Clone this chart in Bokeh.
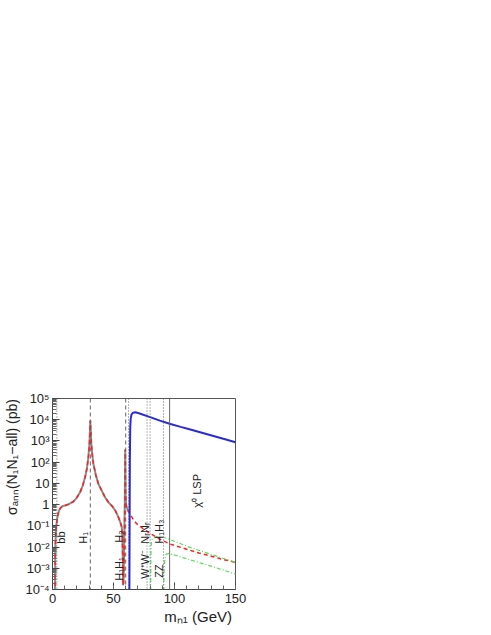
import math
from bokeh.plotting import figure
from bokeh.models import Span, FixedTicker, CustomJSTickFormatter, Range1d, ColumnDataSource
from bokeh.core.properties import value
from bokeh.embed import file_html
from bokeh.resources import INLINE

# ---------------- data ----------------
# total (gray solid) / red dashed curve, low-mass part up to the H2 pole
mass_main = [2.05, 2.15, 2.3, 2.6, 3.0, 4.0, 5.0, 6.2, 8.0, 11.6, 14.0, 17.1, 20.0, 22.6,
             24.8, 26.7, 28.2, 29.4, 30.3, 31.0, 31.8, 32.6, 33.5, 35.5, 37.6, 40.0, 43.1,
             46.0, 48.6, 51.5, 54.1, 55.7, 56.8, 57.3, 57.6, 57.8, 58.2, 58.6, 59.0, 59.3,
             59.6, 59.9, 60.3, 61.0, 62.0]
sigma_main = [3.2e-5, 1.0e-3, 1.0e-2, 3.2e-2, 8.9e-2, 0.25, 0.45, 0.66, 0.83, 0.95, 1.1, 1.38,
              2.14, 3.8, 7.9, 19.5, 50.0, 170.0, 794.0, 9100.0, 794.0, 224.0, 85.0, 25.0, 9.5,
              5.0, 2.2, 1.26, 0.89, 0.52, 0.25, 0.14, 0.085, 0.025, 2.5e-3, 1.6e-4, 2.0e-4,
              3.2e-3, 0.1, 2.0, 400.0, 3.2, 1.0, 0.7, 0.5]
# red dashed continuation above the H2 pole
mass_tail = [64.0, 66.4, 69.0, 72.0, 76.0, 80.0, 87.0, 96.5, 110.0, 120.0, 130.0, 140.0, 150.0]
sigma_tail = [0.32, 0.19, 0.126, 0.091, 0.063, 0.044, 0.025, 0.0138, 7.9e-3, 5.2e-3, 3.7e-3,
              2.6e-3, 1.9e-3]
# green dash-dot: W+W- channel
mass_ww = [80.45, 80.6, 81.0, 82.0, 85.0, 91.0, 96.0, 110.0, 130.0, 150.0]
sigma_ww = [3.2e-5, 3.2e-3, 1.6e-2, 2.5e-2, 3.0e-2, 2.9e-2, 2.3e-2, 1.1e-2, 4.5e-3, 1.9e-3]
# green dash-dot: ZZ channel
mass_zz = [91.2, 91.4, 92.0, 93.0, 95.0, 100.0, 110.0, 130.0, 150.0]
sigma_zz = [3.2e-5, 6.3e-4, 2.5e-3, 4.5e-3, 5.0e-3, 4.2e-3, 2.8e-3, 1.26e-3, 5.4e-4]
# blue solid: N_R N_R channel
mass_nr = [63.0, 63.2, 63.4, 63.7, 64.1, 64.8, 66.0, 68.0, 70.0, 72.0, 80.0, 88.0, 96.0,
           105.0, 113.0, 129.0, 140.0, 150.0]
sigma_nr = [3.2e-5, 0.1, 100.0, 4000.0, 1.12e4, 1.78e4, 2.14e4, 2.24e4, 2.09e4, 1.91e4,
            1.32e4, 9100.0, 6500.0, 4620.0, 3440.0, 1900.0, 1260.0, 870.0]

# vertical threshold lines
threshold_mass = [3.6, 31.0, 60.0, 62.3, 77.5, 80.0, 91.0, 96.0]
threshold_kind = ["dotted", "dashed", "dashed", "dotted", "dotted", "dotted", "dotted", "solid"]

# channel labels
label_text = ["bb\u0304", "H\u2081", "H\u2082", "H\u2081H\u2081", "N\u1d63N\u1d63",
              "W\u207aW\u207b", "ZZ", "H\u2081H\u2083", "\u03c7\u2070 LSP"]
label_mass = [11.9, 29.8, 59.4, 59.8, 80.8, 80.8, 92.0, 92.0, 123.7]
label_sigma = [0.0145, 0.0145, 0.016, 2.6e-4, 0.0145, 3.2e-4, 3.6e-4, 0.0145, 0.72]

y_ticks = [1e-4, 1e-3, 1e-2, 1e-1, 1.0, 10.0, 1e2, 1e3, 1e4, 1e5]
x_ticks = [0, 50, 100, 150]
x_title = "m\u2099\u2081 (GeV)"
y_title = "\u03c3\u2090\u2099\u2099(N\u2081N\u2081\u2212all) (pb)"

# ---------------- figure ----------------
FONT = "Liberation Sans"
BL, BT, FW, FH = 52, 398, 183, 191
W, H = BL + FW + 15, BT + FH + 38
p = figure(width=W, height=H, output_backend="svg", toolbar_location=None,
           x_range=Range1d(0, 150), y_range=Range1d(1e-4, 1e5), y_axis_type="log",
           min_border_left=BL, min_border_right=W - BL - FW, min_border_top=BT,
           min_border_bottom=H - BT - FH)
p.xgrid.visible = False
p.ygrid.visible = False
p.outline_line_color = "#555555"
p.background_fill_color = "white"
p.border_fill_color = "white"

p.xaxis.ticker = FixedTicker(ticks=x_ticks, minor_ticks=list(range(0, 151, 10)))
p.yaxis.ticker = FixedTicker(ticks=y_ticks,
                             minor_ticks=[k * 10.0 ** e for e in range(-4, 5) for k in range(2, 10)])
p.yaxis.formatter = CustomJSTickFormatter(code="""
const e = Math.round(Math.log10(tick));
const sup = {"-":"\u207b","0":"\u2070","1":"\u00b9","2":"\u00b2","3":"\u00b3","4":"\u2074",
             "5":"\u2075","6":"\u2076","7":"\u2077","8":"\u2078","9":"\u2079"};
if (e == 0) return "1";
if (e == 1) return "10";
return "10" + String(e).split("").map(c => sup[c]).join("");
""")
for ax in (p.xaxis, p.yaxis):
    ax.axis_line_color = "#444444"
    ax.major_tick_line_color = "#444444"
    ax.minor_tick_line_color = "#666666"
    ax.major_tick_in = 7
    ax.major_tick_out = 0
    ax.minor_tick_in = 4
    ax.minor_tick_out = 0
    ax.major_label_text_font = FONT
    ax.major_label_text_font_size = "13px"
    ax.major_label_text_color = "#222222"
    ax.axis_label_text_font = FONT
    ax.axis_label_text_font_style = "normal"
    ax.axis_label_text_color = "#222222"
p.yaxis.major_label_standoff = 3
p.xaxis.major_label_standoff = 4

# ROOT-style titles sit at the far end of each axis: centred labels, padded at the start
NBSP = "\u00a0"
p.xaxis.axis_label = NBSP * 26 + x_title
p.xaxis.axis_label_text_font_size = "15px"
p.xaxis.axis_label_standoff = 2
p.yaxis.axis_label = NBSP * 19 + y_title
p.yaxis.axis_label_text_font_size = "14px"
p.yaxis.axis_label_standoff = 2

# threshold lines
dash_map = {"dotted": "1 2", "dashed": "4 3", "solid": "solid"}
for m, kind in zip(threshold_mass, threshold_kind):
    p.add_layout(Span(location=m, dimension="height", line_color="#666666",
                      line_width=1, line_dash=dash_map[kind]))

# curves
p.line(mass_main, sigma_main, line_color="#8c8c8c", line_width=2)
p.line(mass_main + mass_tail, sigma_main + sigma_tail, line_color="#ff2020",
       line_width=1.5, line_dash="4 3")
p.line(mass_ww, sigma_ww, line_color="#55dd55", line_width=1.2, line_dash="4 2 1 2")
p.line(mass_zz, sigma_zz, line_color="#55dd55", line_width=1.2, line_dash="4 2 1 2")
p.line(mass_nr, sigma_nr, line_color="#2a2ad8", line_width=2)

# channel labels (rotated)
src = ColumnDataSource(dict(x=label_mass, y=label_sigma, t=label_text))
p.text(x="x", y="y", text="t", source=src, angle=math.pi / 2,
       text_align="left", text_baseline="bottom", text_font=value(FONT),
       text_font_size="11px", text_color="#222222")

open("out.html", "w").write(file_html(p, INLINE))
